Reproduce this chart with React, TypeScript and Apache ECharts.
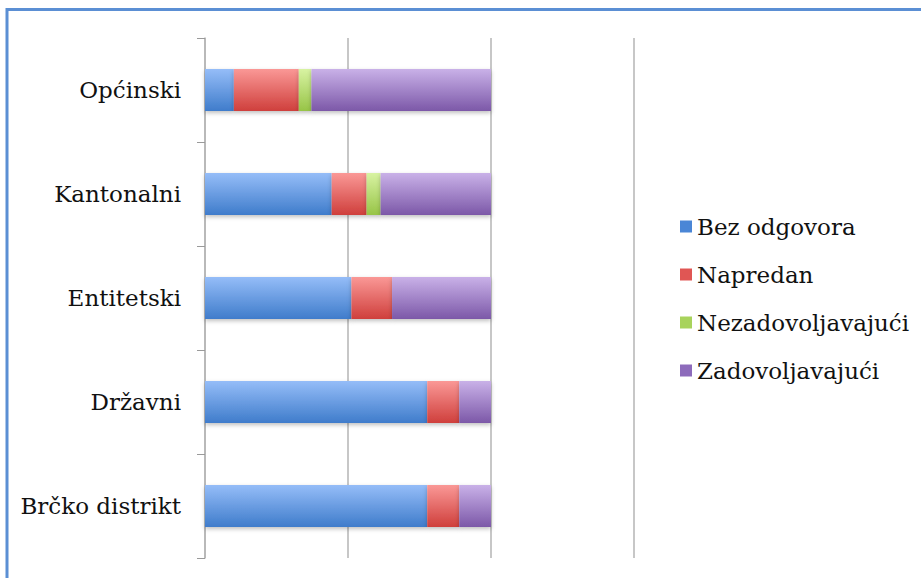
import React, { useEffect, useRef } from "react";
import * as echarts from "echarts";

const categories = ["Općinski", "Kantonalni", "Entitetski", "Državni", "Brčko distrikt"];
const seriesNames = ["Bez odgovora", "Napredan", "Nezadovoljavajući", "Zadovoljavajući"];
const bezOdgovora = [0.101, 0.443, 0.512, 0.777, 0.777];
const napredan = [0.227, 0.122, 0.142, 0.112, 0.112];
const nezadovoljavajuci = [0.044, 0.049, 0, 0, 0];
const zadovoljavajuci = [0.628, 0.386, 0.346, 0.111, 0.111];
const valueTicks = [0, 0.5, 1, 1.5];

const seriesData = [bezOdgovora, napredan, nezadovoljavajuci, zadovoljavajuci];
const gradients = [
  ["#95bdf8", "#3f7ccb"],
  ["#fa9896", "#cf3f3c"],
  ["#d8f3a2", "#97c447"],
  ["#c9b1e8", "#7c58a8"],
];
const legendColors = ["#4a86d6", "#e05654", "#a8d35c", "#8d6bbb"];

const font = "DejaVu Serif";

export default function App() {
  const ref = useRef<HTMLDivElement>(null);
  useEffect(() => {
    if (!ref.current) return;
    const chart = echarts.init(ref.current, undefined, { renderer: "svg" });
    chart.setOption({
      animation: false,
      backgroundColor: "#ffffff",
      textStyle: { fontFamily: font },
      grid: { left: 205, right: 287, top: 38, bottom: 20, containLabel: false },
      legend: {
        orient: "vertical",
        left: 675,
        top: 208,
        itemWidth: 12,
        itemHeight: 12,
        itemGap: 21,
        icon: "rect",
        data: seriesNames.map((n, i) => ({ name: n, itemStyle: { color: legendColors[i] } })),
        textStyle: { fontFamily: font, fontSize: 23, lineHeight: 27, color: "#111" },
      },
      xAxis: {
        type: "value",
        min: valueTicks[0],
        max: valueTicks[valueTicks.length - 1],
        interval: 0.5,
        axisLabel: { show: false },
        axisLine: { show: false },
        axisTick: { show: false },
        splitLine: { show: true, lineStyle: { color: "#b4b4b4", width: 1.5 } },
      },
      yAxis: {
        type: "category",
        data: categories,
        inverse: true,
        axisLine: { show: true, lineStyle: { color: "#b4b4b4", width: 1.5 } },
        axisTick: { show: true, length: 8, lineStyle: { color: "#9a9a9a", width: 1 } },
        axisLabel: { fontFamily: font, fontSize: 23, color: "#111", margin: 24 },
      },
      series: seriesNames.map((name, i) => ({
        name,
        type: "bar",
        stack: "total",
        barWidth: 42,
        data: seriesData[i],
        itemStyle: {
          color: new echarts.graphic.LinearGradient(0, 0, 0, 1, [
            { offset: 0, color: gradients[i][0] },
            { offset: 1, color: gradients[i][1] },
          ]),
          shadowColor: "rgba(0,0,0,0.25)",
          shadowBlur: 4,
          shadowOffsetY: 2,
        },
      })),
      graphic: [
        {
          type: "line",
          shape: { x1: 7, y1: 9.5, x2: 921, y2: 9.5 },
          style: { stroke: "#5b8fd4", lineWidth: 3 },
          silent: true,
        },
        {
          type: "line",
          shape: { x1: 7, y1: 8, x2: 7, y2: 578 },
          style: { stroke: "#5b8fd4", lineWidth: 3 },
          silent: true,
        },
      ],
    });
    return () => chart.dispose();
  }, []);
  return (
    <div
      ref={ref}
      style={{ position: "absolute", left: 0, top: 0, width: 921, height: 578 }}
    />
  );
}
